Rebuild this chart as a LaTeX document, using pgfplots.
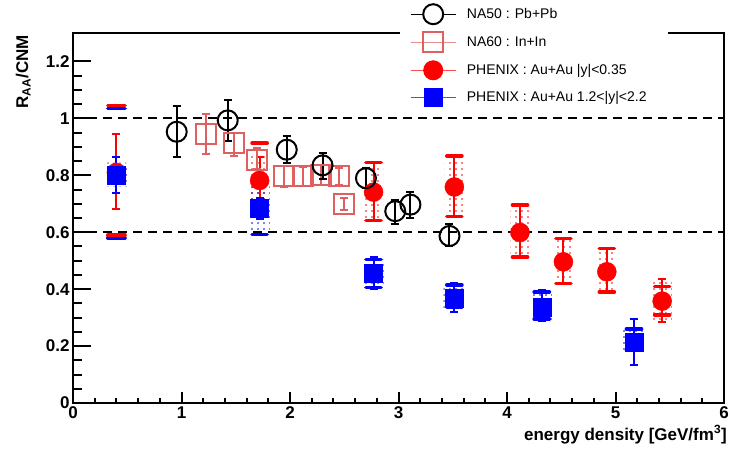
\documentclass[border=0pt]{standalone}
\usepackage{fontspec}
\setmainfont{Liberation Sans}
\usepackage{pgfplots}
\pgfplotsset{compat=1.18}
\usetikzlibrary{patterns.meta}
\definecolor{na60}{RGB}{222,96,96}

\begin{document}
\begin{tikzpicture}[x=1pt,y=1pt]
\useasboundingbox (-73,-48) rectangle (658,403);
% y ticks (longer)
\begin{axis}[at={(0,0)}, anchor=south west, scale only axis, width=651pt, height=370pt,
  xmin=0, xmax=6, ymin=0, ymax=1.3,
  axis line style={draw=none}, xtick=\empty,
  ytick={0,0.2,...,1.2}, minor y tick num=3, yticklabels={},
  ytick pos=left, tick align=inside,
  major tick length=18pt, minor tick length=9pt,
  tick style={line width=2pt, black}]
\end{axis}
\begin{axis}[at={(0,0)}, anchor=south west, scale only axis, width=651pt, height=370pt,
  xmin=0, xmax=6, ymin=0, ymax=1.3,
  axis line style={line width=2pt},
  xtick={0,1,...,6}, minor x tick num=4,
  ytick={0,0.2,...,1.2},
  xtick pos=left, ytick pos=left, tick align=inside,
  ytick style={draw=none},
  major tick length=11pt, minor tick length=5.5pt,
  tick style={line width=2pt, black},
  /pgf/number format/assume math mode=true,
  ticklabel style={font=\fontsize{17}{20}\selectfont\bfseries},
  xlabel={energy density [GeV/fm\textsuperscript{3}]},
  xlabel style={font=\fontsize{17}{20}\selectfont\bfseries, at={(axis description cs:1.0046,-0.1)}, anchor=base east, inner sep=0pt},
  ylabel={R\textsubscript{AA}/CNM},
  ylabel style={font=\fontsize{17}{20}\selectfont\bfseries, at={(axis description cs:-0.0691,0.9946)}, anchor=base east, inner sep=0pt},
  legend style={at={(axis description cs:0.5023,1.0892)}, anchor=north west, draw=none, fill=white,
    font=\fontsize{14}{16}\selectfont, inner xsep=10pt, inner ysep=4pt, row sep=8.3pt, column sep=10.7pt,
    nodes={inner xsep=0pt, inner ysep=2.65pt}},
  legend cell align=left,
  legend image code/.code={\draw[mark repeat=2,mark phase=2,#1] plot coordinates {(0pt,0pt)(22.5pt,0pt)(45pt,0pt)};},
  error bars/error bar style={line width=2pt},
  error bars/error mark options={rotate=90, mark size=4pt, line width=2pt},
]
\addlegendimage{black, line width=1pt, mark=*, mark size=10pt, mark options={fill=white, draw=black, line width=2pt}}
\addlegendentry{\makebox[191pt][l]{NA50 : Pb+Pb}}
\addlegendimage{na60!70, line width=1pt, mark=square, mark size=10pt, mark options={draw=na60, line width=2pt}}
\addlegendentry{NA60 : In+In}
\addlegendimage{red!70, line width=1pt, mark=*, mark size=9.5pt, mark options={fill=red, draw=red}}
\addlegendentry{PHENIX : Au+Au |y|<0.35}
\addlegendimage{blue!70, line width=1pt, mark=square*, mark size=9pt, mark options={fill=blue, draw=blue}}
\addlegendentry{PHENIX : Au+Au 1.2<|y|<2.2}

% reference lines
\addplot[black, line width=2pt, dash pattern=on 9pt off 6pt, forget plot] coordinates {(0,1) (6,1)};
\addplot[black, line width=2pt, dash pattern=on 9pt off 6pt, forget plot] coordinates {(0,0.6) (6,0.6)};

% systematic boxes, PHENIX |y|<0.35
\addplot[draw=none, pattern={Dots[distance=6pt, radius=0.8pt]}, pattern color=red, unbounded coords=jump, forget plot] table {
x y
0.31 0.775
0.49 0.775
0.49 0.845
0.31 0.845
nan nan
1.63 0.665
1.81 0.665
1.81 0.87
1.63 0.87
nan nan
2.68 0.645
2.86 0.645
2.86 0.845
2.68 0.845
nan nan
3.425 0.655
3.605 0.655
3.605 0.865
3.425 0.865
nan nan
4.03 0.515
4.21 0.515
4.21 0.69
4.03 0.69
nan nan
4.43 0.425
4.61 0.425
4.61 0.575
4.43 0.575
nan nan
4.83 0.39
5.01 0.39
5.01 0.54
4.83 0.54
nan nan
5.34 0.29
5.52 0.29
5.52 0.43
5.34 0.43
};
% systematic boxes, PHENIX 1.2<|y|<2.2
\addplot[draw=none, pattern={Dots[distance=6pt, radius=0.8pt]}, pattern color=blue, unbounded coords=jump, forget plot] table {
x y
0.30 0.76
0.50 0.76
0.50 0.84
0.30 0.84
nan nan
1.62 0.60
1.82 0.60
1.82 0.76
1.62 0.76
nan nan
2.67 0.405
2.87 0.405
2.87 0.505
2.67 0.505
nan nan
3.415 0.33
3.615 0.33
3.615 0.415
3.415 0.415
nan nan
4.22 0.29
4.42 0.29
4.42 0.39
4.22 0.39
nan nan
5.07 0.18
5.27 0.18
5.27 0.26
5.07 0.26
};

% brackets (blue)
\addplot[blue, line width=3.5pt, line cap=round, unbounded coords=jump, forget plot] table {
x y
0.32 1.035
0.48 1.035
nan nan
0.32 0.58
0.48 0.58
nan nan
1.65 0.78
1.79 0.78
nan nan
1.65 0.592
1.79 0.592
nan nan
2.70 0.505
2.84 0.505
nan nan
2.70 0.405
2.84 0.405
nan nan
3.445 0.415
3.585 0.415
nan nan
3.445 0.335
3.585 0.335
nan nan
4.25 0.39
4.39 0.39
nan nan
4.25 0.295
4.39 0.295
nan nan
5.10 0.26
5.24 0.26
nan nan
5.10 0.185
5.24 0.185
};
% brackets (red)
\addplot[red, line width=3.5pt, line cap=round, unbounded coords=jump, forget plot] table {
x y
0.32 1.045
0.48 1.045
nan nan
0.32 0.59
0.48 0.59
nan nan
1.65 0.913
1.79 0.913
nan nan
1.65 0.66
1.79 0.66
nan nan
2.70 0.845
2.84 0.845
nan nan
2.70 0.642
2.84 0.642
nan nan
3.445 0.868
3.585 0.868
nan nan
3.445 0.656
3.585 0.656
nan nan
4.05 0.695
4.19 0.695
nan nan
4.05 0.513
4.19 0.513
nan nan
4.45 0.578
4.59 0.578
nan nan
4.45 0.42
4.59 0.42
nan nan
4.85 0.543
4.99 0.543
nan nan
4.85 0.39
4.99 0.39
nan nan
5.36 0.41
5.50 0.41
nan nan
5.36 0.31
5.50 0.31
};

% PHENIX |y|<0.35
\addplot[red, only marks, mark=*, mark size=9.5pt, forget plot,
  error bars/.cd, y dir=both, y explicit] table[x=x, y=y, y error plus=ep, y error minus=em] {
x y ep em
0.4 0.81 0.136 0.127
1.72 0.782 0.082 0.08
2.77 0.741 0.103 0.099
3.515 0.759 0.109 0.103
4.12 0.599 0.096 0.086
4.52 0.496 0.082 0.076
4.92 0.461 0.082 0.075
5.43 0.358 0.077 0.073
};
% PHENIX 1.2<|y|<2.2
\addplot[blue, only marks, mark=square*, mark size=9pt, forget plot,
  error bars/.cd, y dir=both, y explicit] table[x=x, y=y, y error plus=ep, y error minus=em] {
x y ep em
0.4 0.80 0.064 0.061
1.72 0.683 0.037 0.038
2.77 0.457 0.056 0.057
3.515 0.367 0.053 0.047
4.32 0.338 0.058 0.05
5.17 0.213 0.082 0.08
};
% NA60 In+In
\addplot[na60, only marks, mark=square, mark size=10pt, mark options={line width=2pt}, forget plot,
  error bars/.cd, y dir=both, y explicit] table[x=x, y=y, y error plus=ep, y error minus=em] {
x y ep em
1.226 0.946 0.07 0.07
1.484 0.915 0.032 0.048
1.70 0.855 0.042 0.034
1.945 0.796 0.036 0.037
2.12 0.797 0.033 0.033
2.29 0.80 0.035 0.035
2.455 0.797 0.03 0.03
2.50 0.70 0.022 0.022
};
% NA50 Pb+Pb
\addplot[black, only marks, mark=o, mark size=10pt, mark options={line width=2pt}, forget plot,
  error bars/.cd, y dir=both, y explicit] table[x=x, y=y, y error plus=ep, y error minus=em] {
x y ep em
0.956 0.953 0.09 0.09
1.426 0.993 0.07 0.074
1.97 0.89 0.047 0.047
2.30 0.835 0.043 0.049
2.70 0.79 0.035 0.035
2.97 0.674 0.04 0.045
3.11 0.697 0.043 0.047
3.47 0.587 0.043 0.037
};
\end{axis}
\end{tikzpicture}
\end{document}
